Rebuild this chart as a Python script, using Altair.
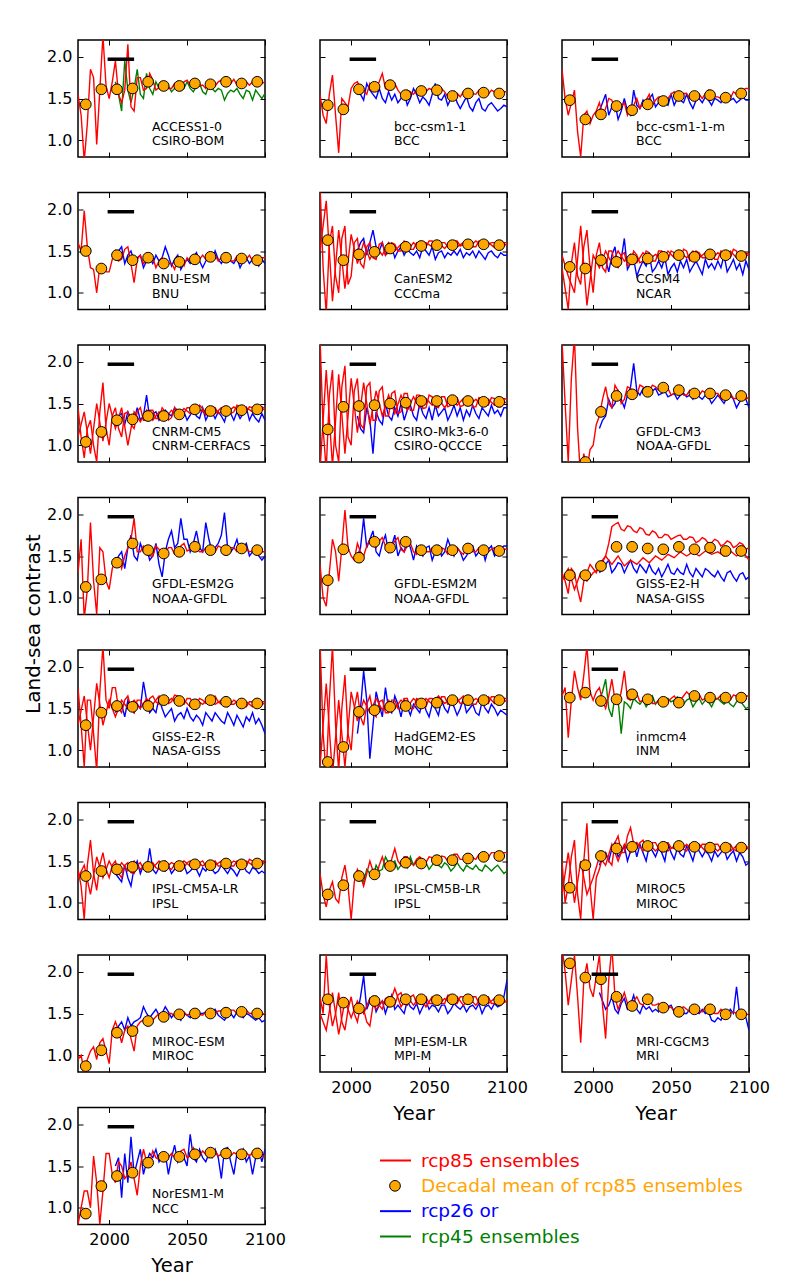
import altair as alt
import pandas as pd

RED_START = 1980        # rcp85 (with historical) series start
ALT_START = 2004        # rcp26 / rcp45 series start
END_YEAR = 2100
DECADES = list(range(1985, 2096, 10))       # decadal means

MODELS = ["ACCESS1-0", "bcc-csm1-1", "bcc-csm1-1-m", "BNU-ESM", "CanESM2", "CCSM4",
          "CNRM-CM5", "CSIRO-Mk3-6-0", "GFDL-CM3", "GFDL-ESM2G", "GFDL-ESM2M", "GISS-E2-H",
          "GISS-E2-R", "HadGEM2-ES", "inmcm4", "IPSL-CM5A-LR", "IPSL-CM5B-LR", "MIROC5",
          "MIROC-ESM", "MPI-ESM-LR", "MRI-CGCM3", "NorESM1-M"]
INSTITUTES = ["CSIRO-BOM", "BCC", "BCC", "BNU", "CCCma", "NCAR",
              "CNRM-CERFACS", "CSIRO-QCCCE", "NOAA-GFDL", "NOAA-GFDL", "NOAA-GFDL", "NASA-GISS",
              "NASA-GISS", "MOHC", "INM", "IPSL", "IPSL", "MIROC",
              "MIROC", "MPI-M", "MRI", "NCC"]
OTHER_SCENARIO = ["rcp45", "rcp26", "rcp26", "rcp26", "rcp26", "rcp26",
                  "rcp26", "rcp26", "rcp26", "rcp26", "rcp26", "rcp26",
                  "rcp26", "rcp26", "rcp45", "rcp26", "rcp45", "rcp26",
                  "rcp26", "rcp26", "rcp26", "rcp26"]

# ---- rcp85 ensemble members: first member every 2 years, second member every 4 years ----
R85_ACCESS1_0 = [[1.55,1.3,0.75,1.2,1.85, 1.75,0.95,1.6,2.25,1.65, 1.5,1.7,1.95,1.55,1.45, 1.6,2.15,1.4,1.35,1.75,
                  1.75,1.6,1.62,1.8,1.72, 1.6,1.63,1.7,1.68,1.62, 1.62,1.68,1.66,1.6,1.7, 1.72,1.66,1.7,1.72,1.65,
                  1.66,1.62,1.7,1.68,1.65, 1.7,1.72,1.68,1.72,1.68, 1.73,1.66,1.67,1.71,1.7, 1.66,1.7,1.72,1.68,1.68, 1.7]]
R85_BCC_CSM1_1 = [[1.55,1.3,1.2,1.55,1.78, 1.3,0.85,1.5,1.45,1.4, 1.62,1.68,1.7,1.62,1.6, 1.55,1.68,1.6,1.62,1.7,
                   1.8,1.62,1.6,1.65,1.68, 1.6,1.55,1.52,1.6,1.58, 1.55,1.6,1.62,1.55,1.58, 1.62,1.6,1.55,1.58,1.62,
                   1.58,1.52,1.55,1.5,1.56, 1.52,1.58,1.6,1.55,1.56, 1.55,1.6,1.58,1.52,1.55, 1.6,1.58,1.56,1.55,1.58, 1.58]]
R85_BCC_CSM1_1_M = [[1.85,1.5,1.3,1.45,1.6, 1.1,0.8,1.3,1.35,1.2, 1.3,1.35,1.45,1.3,1.38, 1.5,1.48,1.35,1.42,1.4,
                     1.45,1.3,1.38,1.42,1.5, 1.38,1.45,1.48,1.55,1.42, 1.48,1.52,1.52,1.45,1.5, 1.55,1.58,1.52,1.5,1.56,
                     1.56,1.5,1.52,1.55,1.55, 1.5,1.56,1.6,1.56,1.52, 1.52,1.5,1.55,1.48,1.5, 1.58,1.55,1.55,1.6,1.62, 1.62]]
R85_BNU_ESM = [[1.6,1.5,1.98,1.55,1.3, 1.28,1.0,1.32,1.3,1.25, 1.25,1.4,1.5,1.38,1.4, 1.52,1.55,1.35,1.12,1.4,
                1.45,1.35,1.38,1.42,1.42, 1.3,1.38,1.42,1.3,1.35, 1.35,1.28,1.4,1.38,1.32, 1.42,1.38,1.38,1.45,1.4,
                1.45,1.4,1.45,1.42,1.45, 1.38,1.42,1.42,1.4,1.38, 1.38,1.44,1.44,1.38,1.4, 1.45,1.38,1.38,1.42,1.42, 1.42]]
R85_CANESM2 = [[2.3,1.3,0.75,1.6,1.8, 1.2,1.0,1.65,1.8,1.1, 1.2,1.6,1.65,1.35,1.3, 1.55,1.6,1.42,1.4,1.58,
                1.6,1.45,1.48,1.6,1.58, 1.5,1.5,1.62,1.6,1.52, 1.52,1.6,1.6,1.54,1.55, 1.62,1.62,1.55,1.58,1.6,
                1.6,1.55,1.55,1.62,1.62, 1.56,1.58,1.6,1.6,1.55, 1.55,1.62,1.62,1.56,1.58, 1.6,1.6,1.55,1.6,1.6, 1.6],
               [1.5,2.1,0.9,1.75,1.05,1.7,1.35,1.6,1.4,1.55,1.45,1.6,1.5,1.58,1.5,1.6,1.52,1.6,1.55,1.6,1.53,1.62,1.55,1.6,1.55,1.62,1.56,1.6,1.54,1.62,1.56]]
R85_CCSM4 = [[1.3,1.05,0.8,1.35,1.6, 1.2,1.1,1.55,1.75,1.3, 1.0,1.45,1.6,1.3,1.25, 1.5,1.5,1.32,1.3,1.45,
              1.48,1.32,1.35,1.5,1.45, 1.36,1.38,1.5,1.48,1.38, 1.38,1.5,1.5,1.4,1.4, 1.5,1.48,1.4,1.42,1.52,
              1.5,1.38,1.4,1.5,1.48, 1.42,1.42,1.5,1.5,1.4, 1.4,1.5,1.48,1.4,1.42, 1.52,1.5,1.4,1.4,1.48, 1.46],
             [1.45,1.2,1.0,1.8,0.85,1.45,1.3,1.5,1.35,1.5,1.38,1.46,1.36,1.48,1.4,1.46,1.4,1.5,1.42,1.48,1.42,1.5,1.42,1.48,1.4,1.48,1.42,1.5,1.42,1.48,1.44]]
R85_CNRM_CM5 = [[1.45,1.1,0.85,1.2,1.3, 1.0,0.8,1.4,1.75,1.2, 1.0,1.35,1.45,1.2,1.1, 1.38,1.4,1.25,1.2,1.4,
                 1.45,1.3,1.3,1.42,1.42, 1.32,1.32,1.45,1.4,1.3, 1.33,1.45,1.42,1.36,1.38, 1.45,1.45,1.38,1.4,1.48,
                 1.44,1.36,1.38,1.46,1.45, 1.38,1.4,1.46,1.44,1.38, 1.4,1.48,1.46,1.38,1.4, 1.46,1.45,1.4,1.42,1.46, 1.44],
                [1.1,1.4,0.9,1.5,1.05,1.5,1.2,1.45,1.0,1.4,1.28,1.42,1.3,1.4,1.32,1.42,1.35,1.44,1.38,1.45,1.4,1.45,1.38,1.45,1.4,1.46,1.4,1.45,1.4,1.46,1.42]]
R85_CSIRO_MK3_6_0 = [[2.3,1.2,0.7,1.6,1.9, 1.0,0.8,1.7,1.95,1.1, 1.0,1.65,1.8,1.25,1.2, 1.7,1.75,1.3,1.3,1.65,
                      1.7,1.35,1.35,1.62,1.65, 1.38,1.4,1.62,1.62,1.42, 1.42,1.6,1.6,1.44,1.45, 1.6,1.58,1.46,1.45,1.58,
                      1.58,1.46,1.48,1.58,1.57, 1.46,1.48,1.58,1.57,1.46, 1.46,1.57,1.56,1.47,1.48, 1.57,1.56,1.46,1.46,1.56, 1.55],
                     [0.7,1.9,0.75,1.85,0.9,1.8,1.15,1.75,1.25,1.65,1.35,1.6,1.38,1.6,1.42,1.58,1.45,1.56,1.48,1.56,1.45,1.56,1.48,1.56,1.48,1.55,1.47,1.55,1.48,1.55,1.5]]
R85_GFDL_CM3 = [[2.25,1.5,0.8,1.8,2.3, 1.2,0.6,0.9,0.7,0.95, 1.0,1.25,1.35,1.55,1.7, 1.5,1.45,1.72,1.65,1.5,
                 1.55,1.7,1.68,1.58,1.6, 1.72,1.7,1.62,1.65,1.72, 1.7,1.66,1.65,1.7,1.68, 1.6,1.62,1.68,1.66,1.6,
                 1.6,1.66,1.64,1.58,1.6, 1.65,1.63,1.56,1.58,1.62, 1.62,1.56,1.58,1.63,1.62, 1.56,1.56,1.62,1.6,1.55, 1.58]]
R85_GFDL_ESM2G = [[1.3,1.7,0.75,1.1,1.9, 1.2,0.8,1.6,1.55,1.2, 1.1,1.35,1.45,1.48,1.35, 1.5,1.6,1.7,1.95,1.55,
                   1.55,1.62,1.6,1.5,1.5, 1.62,1.58,1.5,1.52,1.6, 1.6,1.52,1.52,1.62,1.65, 1.56,1.58,1.62,1.6,1.55,
                   1.55,1.6,1.6,1.55,1.55, 1.62,1.6,1.56,1.56,1.6, 1.6,1.55,1.58,1.62,1.6, 1.55,1.56,1.6,1.6,1.55, 1.55]]
R85_GFDL_ESM2M = [[1.4,1.0,0.9,1.3,1.7, 1.55,1.2,1.6,2.05,1.6, 1.5,1.45,1.65,1.55,1.5, 1.62,1.7,1.65,1.6,1.68,
                   1.72,1.62,1.55,1.6,1.68, 1.72,1.58,1.55,1.62,1.65, 1.55,1.52,1.6,1.6,1.55, 1.55,1.6,1.58,1.55,1.6,
                   1.58,1.52,1.55,1.62,1.6, 1.55,1.52,1.6,1.62,1.55, 1.55,1.6,1.58,1.54,1.55, 1.58,1.6,1.55,1.52,1.58, 1.58]]
R85_GISS_E2_H = [[1.3,1.2,1.05,1.35,1.3, 1.1,0.95,1.2,1.3,1.4, 1.35,1.3,1.4,1.45,1.5, 1.65,1.85,1.88,1.9,1.82,
                  1.8,1.86,1.85,1.8,1.78, 1.84,1.82,1.76,1.75,1.8, 1.78,1.72,1.72,1.76,1.75, 1.7,1.72,1.74,1.75,1.7,
                  1.7,1.73,1.72,1.66,1.68, 1.72,1.7,1.65,1.66,1.7, 1.68,1.62,1.64,1.68,1.66, 1.6,1.62,1.66,1.64,1.58, 1.6],
                 [1.2,1.35,1.1,1.3,1.2,1.3,1.35,1.5,1.4,1.5,1.38,1.45,1.4,1.48,1.42,1.5,1.45,1.52,1.48,1.55,1.5,1.55,1.5,1.56,1.52,1.55,1.5,1.56,1.5,1.55,1.45]]
R85_GISS_E2_R = [[1.75,1.3,0.8,1.6,1.6, 1.2,0.75,1.7,2.25,1.6, 1.5,1.75,1.75,1.5,1.45, 1.6,1.65,1.5,1.45,1.6,
                  1.6,1.52,1.5,1.62,1.65, 1.58,1.55,1.62,1.62,1.56, 1.58,1.66,1.65,1.56,1.55, 1.62,1.62,1.55,1.55,1.62,
                  1.6,1.56,1.58,1.64,1.65, 1.58,1.55,1.6,1.6,1.55, 1.55,1.58,1.58,1.52,1.52, 1.58,1.58,1.54,1.55,1.58, 1.58],
                 [1.3,1.65,1.0,1.8,1.3,1.6,1.4,1.6,1.5,1.6,1.5,1.62,1.55,1.65,1.55,1.62,1.55,1.6,1.52,1.6,1.55,1.62,1.55,1.6,1.52,1.6,1.55,1.58,1.52,1.58,1.55]]
R85_HADGEM2_ES = [[2.3,1.2,0.7,1.6,2.25, 1.3,0.75,1.5,1.9,1.2, 1.0,1.5,1.7,1.4,1.3, 1.55,1.65,1.45,1.4,1.58,
                   1.6,1.45,1.45,1.6,1.6, 1.5,1.5,1.62,1.62,1.5, 1.5,1.62,1.6,1.52,1.52, 1.62,1.62,1.55,1.55,1.64,
                   1.64,1.55,1.55,1.62,1.62, 1.56,1.56,1.65,1.65,1.55, 1.55,1.62,1.62,1.56,1.56, 1.64,1.64,1.55,1.55,1.62, 1.62],
                  [0.8,1.8,0.7,1.6,0.8,1.7,1.35,1.6,1.45,1.62,1.48,1.6,1.5,1.6,1.52,1.62,1.55,1.62,1.55,1.65,1.56,1.62,1.58,1.65,1.56,1.62,1.58,1.64,1.56,1.62,1.58]]
R85_INMCM4 = [[1.65,1.75,1.15,1.6,1.95, 1.75,1.6,1.9,2.25,1.7, 1.6,1.7,1.75,1.6,1.5, 1.65,1.85,1.6,1.55,1.7,
               1.95,1.62,1.6,1.72,1.68, 1.58,1.6,1.65,1.62,1.56, 1.56,1.6,1.62,1.6,1.58, 1.62,1.65,1.6,1.6,1.65,
               1.7,1.66,1.62,1.68,1.67, 1.6,1.62,1.66,1.65,1.62, 1.62,1.66,1.65,1.6,1.6, 1.66,1.65,1.6,1.62,1.65, 1.65]]
R85_IPSL_CM5A_LR = [[1.4,1.2,0.8,1.45,1.75, 1.35,1.15,1.45,1.6,1.4, 1.3,1.45,1.5,1.35,1.3, 1.45,1.48,1.36,1.35,1.45,
                     1.48,1.4,1.38,1.46,1.48, 1.42,1.4,1.48,1.5,1.42, 1.4,1.46,1.48,1.42,1.42, 1.48,1.5,1.44,1.42,1.48,
                     1.5,1.44,1.42,1.48,1.5, 1.44,1.44,1.5,1.5,1.44, 1.44,1.5,1.5,1.44,1.44, 1.52,1.5,1.45,1.46,1.5, 1.5],
                    [1.3,1.45,1.1,1.55,1.3,1.5,1.35,1.48,1.38,1.5,1.4,1.48,1.42,1.5,1.42,1.48,1.44,1.5,1.44,1.5,1.44,1.5,1.45,1.5,1.44,1.5,1.46,1.5,1.45,1.5,1.46]]
R85_IPSL_CM5B_LR = [[1.35,1.1,0.95,1.15,1.25, 1.05,1.0,1.3,1.45,1.2, 0.8,1.25,1.4,1.32,1.2, 1.35,1.5,1.38,1.3,1.45,
                     1.55,1.42,1.4,1.52,1.65, 1.5,1.45,1.55,1.55,1.48, 1.45,1.52,1.55,1.5,1.48, 1.55,1.54,1.5,1.5,1.56,
                     1.55,1.5,1.52,1.58,1.58, 1.52,1.52,1.58,1.58,1.54, 1.52,1.58,1.6,1.55,1.54, 1.6,1.6,1.55,1.56,1.6, 1.6]]
R85_MIROC5 = [[1.5,1.0,1.2,1.55,1.75, 1.1,0.8,1.5,1.95,1.2, 0.8,1.3,1.4,1.55,1.6, 1.5,1.45,1.72,1.8,1.6,
               1.6,1.8,1.9,1.7,1.65, 1.72,1.75,1.65,1.62,1.72, 1.72,1.65,1.65,1.72,1.72, 1.66,1.65,1.72,1.72,1.64,
               1.62,1.7,1.72,1.66,1.65, 1.7,1.7,1.64,1.62,1.7, 1.7,1.64,1.65,1.7,1.7, 1.64,1.62,1.7,1.7,1.64, 1.66],
              [1.1,1.6,1.0,1.5,1.1,1.3,1.55,1.45,1.7,1.5,1.7,1.6,1.72,1.62,1.7,1.62,1.7,1.62,1.68,1.62,1.7,1.62,1.7,1.62,1.68,1.62,1.7,1.62,1.68,1.62,1.68]]
R85_MIROC_ESM = [[0.95,1.0,0.8,0.95,1.05, 1.1,0.95,1.15,1.2,1.05, 0.9,1.3,1.4,1.3,1.15, 1.3,1.35,1.2,1.05,1.35,
                  1.4,1.42,1.45,1.4,1.42, 1.46,1.5,1.45,1.45,1.5, 1.5,1.47,1.48,1.52,1.52, 1.48,1.5,1.53,1.52,1.49,
                  1.48,1.52,1.52,1.49,1.5, 1.53,1.53,1.5,1.5,1.54, 1.54,1.5,1.5,1.54,1.54, 1.5,1.5,1.53,1.52,1.49, 1.5]]
R85_MPI_ESM_LR = [[1.7,1.5,2.2,1.6,1.35, 1.5,1.75,1.4,1.3,1.55, 1.7,1.5,1.4,1.6,1.55, 1.4,1.35,1.6,1.7,1.6,
                   1.55,1.68,1.7,1.6,1.6, 1.72,1.75,1.62,1.6,1.7, 1.72,1.62,1.62,1.7,1.7, 1.62,1.62,1.7,1.7,1.62,
                   1.62,1.72,1.72,1.62,1.62, 1.7,1.7,1.62,1.62,1.7, 1.7,1.62,1.62,1.7,1.7, 1.62,1.62,1.7,1.7,1.64, 1.64],
                  [1.5,1.3,1.75,1.25,1.65,1.45,1.65,1.5,1.68,1.55,1.65,1.58,1.8,1.58,1.7,1.6,1.7,1.58,1.7,1.6,1.68,1.62,1.7,1.6,1.68,1.6,1.7,1.62,1.68,1.6,1.66]]
R85_MRI_CGCM3 = [[2.3,2.0,1.6,1.9,2.2, 1.7,1.15,1.9,2.1,1.8, 1.7,1.95,2.2,1.6,1.2, 1.9,2.3,1.7,1.55,1.65,
                  1.75,1.62,1.58,1.65,1.7, 1.62,1.6,1.66,1.68,1.6, 1.6,1.62,1.55,1.52,1.56, 1.58,1.52,1.5,1.56,1.58,
                  1.55,1.52,1.56,1.58,1.52, 1.52,1.58,1.56,1.52,1.5, 1.5,1.55,1.52,1.48,1.5, 1.52,1.5,1.48,1.5,1.48, 1.5]]
R85_NORESM1_M = [[0.8,1.0,1.2,1.2,1.0, 1.62,1.3,0.8,1.2,1.65, 1.65,1.4,1.3,1.55,1.5, 1.35,1.4,1.55,1.35,1.15,
                  1.5,1.7,1.55,1.55,1.68, 1.6,1.58,1.65,1.62,1.6, 1.65,1.6,1.6,1.68,1.7, 1.6,1.62,1.72,1.65,1.62,
                  1.68,1.64,1.6,1.66,1.68, 1.62,1.64,1.66,1.6,1.62, 1.66,1.64,1.6,1.64,1.66, 1.62,1.66,1.68,1.62,1.62, 1.62]]

# ---- rcp26 (blue) or rcp45 (green) ensembles, 2004..2100 every 2 years ----
ALT_ACCESS1_0 = [1.7,1.55,1.35, 1.95,1.6,1.45,1.62,1.85, 1.55,1.5,1.8,1.62,1.55, 1.7,1.62,1.6,1.68,1.65, 1.58,1.62,1.7,1.6,1.62,
                 1.7,1.62,1.58,1.65,1.68, 1.58,1.55,1.66,1.62,1.58, 1.62,1.6,1.48,1.56,1.6, 1.58,1.62,1.55,1.5,1.6, 1.58,1.48,1.6,1.55,1.5, 1.56]
ALT_BCC_CSM1_1 = [1.6,1.55,1.48, 1.68,1.6,1.55,1.5,1.62, 1.5,1.45,1.58,1.48,1.55, 1.45,1.5,1.58,1.42,1.5, 1.62,1.55,1.45,1.52,1.48,
                  1.42,1.55,1.68,1.5,1.48, 1.55,1.42,1.5,1.58,1.45, 1.38,1.45,1.52,1.4,1.35, 1.45,1.5,1.38,1.35,1.42, 1.45,1.4,1.35,1.38,1.42, 1.4]
ALT_BCC_CSM1_1_M = [1.35,1.45,1.55, 1.3,1.4,1.45,1.25,1.35, 1.5,1.35,1.3,1.6,1.42, 1.38,1.48,1.42,1.5,1.55, 1.4,1.45,1.5,1.45,1.42,
                    1.55,1.42,1.5,1.48,1.45, 1.55,1.45,1.38,1.48,1.5, 1.45,1.52,1.48,1.42,1.5, 1.48,1.45,1.52,1.46,1.48, 1.5,1.45,1.48,1.52,1.48, 1.48]
ALT_BNU_ESM = [1.45,1.5,1.55, 1.35,1.45,1.5,1.38,1.42, 1.45,1.3,1.38,1.42,1.35, 1.45,1.38,1.42,1.55,1.45, 1.32,1.4,1.45,1.28,1.35,
               1.4,1.35,1.42,1.48,1.38, 1.3,1.38,1.42,1.38,1.5, 1.4,1.35,1.42,1.45,1.38, 1.35,1.42,1.3,1.38,1.42, 1.35,1.4,1.38,1.32,1.4, 1.35]
ALT_CANESM2 = [1.5,1.6,1.65, 1.45,1.6,1.75,1.55,1.5, 1.6,1.45,1.52,1.55,1.42, 1.5,1.55,1.45,1.52,1.48, 1.45,1.5,1.42,1.55,1.5,
               1.45,1.55,1.4,1.48,1.5, 1.42,1.48,1.45,1.5,1.45, 1.52,1.42,1.48,1.45,1.5, 1.42,1.5,1.45,1.4,1.48, 1.5,1.45,1.42,1.48,1.45, 1.45]
ALT_CCSM4 = [1.35,1.45,1.4, 1.25,1.45,1.55,1.3,1.4, 1.65,1.28,1.35,1.4,1.2, 1.3,1.38,1.32,1.45,1.25, 1.3,1.38,1.3,1.42,1.22,
             1.3,1.35,1.25,1.38,1.3, 1.4,1.25,1.32,1.38,1.3, 1.22,1.4,1.3,1.35,1.28, 1.38,1.3,1.45,1.25,1.32, 1.4,1.28,1.35,1.22,1.38, 1.28]
ALT_CNRM_CM5 = [1.3,1.35,1.38, 1.25,1.4,1.32,1.3,1.45, 1.3,1.35,1.6,1.32,1.38, 1.4,1.3,1.35,1.42,1.38, 1.35,1.45,1.32,1.38,1.4,
                1.3,1.36,1.42,1.35,1.32, 1.45,1.3,1.38,1.4,1.32, 1.4,1.35,1.28,1.42,1.38, 1.3,1.4,1.32,1.38,1.45, 1.3,1.38,1.32,1.28,1.38, 1.3]
ALT_CSIRO_MK3_6_0 = [1.35,1.2,1.15, 1.45,1.3,0.9,1.4,1.3, 1.25,1.5,1.35,1.3,1.45, 1.35,1.5,1.3,1.42,1.48, 1.35,1.3,1.5,1.38,1.32,
                     1.45,1.3,1.48,1.35,1.4, 1.45,1.3,1.38,1.48,1.35, 1.45,1.3,1.42,1.35,1.48, 1.38,1.32,1.45,1.4,1.35, 1.48,1.38,1.42,1.35,1.45, 1.45]
ALT_GFDL_CM3 = [1.2,1.3,1.35, 1.55,1.45,1.5,1.65,1.55, 1.45,1.6,1.7,1.98,1.65, 1.6,1.68,1.7,1.62,1.65, 1.68,1.6,1.62,1.65,1.58,
                1.6,1.62,1.55,1.6,1.62, 1.58,1.6,1.55,1.62,1.58, 1.55,1.6,1.58,1.5,1.55, 1.6,1.55,1.5,1.58,1.6, 1.55,1.45,1.52,1.6,1.55, 1.45]
ALT_GFDL_ESM2G = [1.4,1.5,1.55, 1.35,1.6,1.75,1.5,1.45, 1.65,1.55,1.6,1.45,1.5, 1.65,1.4,1.25,1.55,1.7, 1.8,1.6,1.65,1.95,1.7,
                  1.7,1.55,1.65,1.8,1.6, 1.55,1.9,1.7,1.55,1.6, 1.65,1.75,2.02,1.6,1.55, 1.6,1.7,1.55,1.6,1.65, 1.5,1.55,1.6,1.5,1.45, 1.5]
ALT_GFDL_ESM2M = [1.5,1.6,1.95, 1.6,1.7,1.8,1.55,1.5, 1.65,1.75,1.55,1.62,1.75, 1.5,1.6,1.55,1.7,1.6, 1.45,1.62,1.55,1.5,1.6,
                  1.62,1.45,1.55,1.62,1.5, 1.55,1.7,1.6,1.5,1.6, 1.55,1.45,1.5,1.58,1.62, 1.5,1.55,1.6,1.45,1.58, 1.62,1.5,1.55,1.58,1.62, 1.62]
ALT_GISS_E2_H = [1.3,1.35,1.4, 1.45,1.3,1.35,1.42,1.4, 1.3,1.38,1.45,1.35,1.3, 1.4,1.35,1.3,1.4,1.32, 1.28,1.35,1.25,1.32,1.4,
                 1.3,1.28,1.35,1.3,1.28, 1.4,1.3,1.25,1.35,1.3, 1.25,1.35,1.32,1.28,1.25, 1.32,1.25,1.2,1.3,1.32, 1.25,1.2,1.28,1.3,1.22, 1.25]
ALT_GISS_E2_R = [1.45,1.5,1.55, 1.4,1.6,1.5,1.45,1.55, 1.5,1.82,1.6,1.45,1.5, 1.45,1.62,1.5,1.4,1.45, 1.5,1.35,1.42,1.45,1.38,
                 1.5,1.4,1.35,1.42,1.38, 1.3,1.45,1.4,1.35,1.45, 1.4,1.35,1.32,1.45,1.38, 1.3,1.42,1.35,1.28,1.4, 1.35,1.45,1.32,1.38,1.3, 1.2]
ALT_HADGEM2_ES = [1.2,1.5,1.95, 1.6,0.9,1.3,1.7,1.55, 1.4,1.75,1.5,1.45,1.65, 1.55,1.4,1.6,1.52,1.42, 1.55,1.5,1.45,1.6,1.48,
                  1.4,1.55,1.5,1.42,1.6, 1.5,1.45,1.58,1.52,1.42, 1.5,1.62,1.45,1.5,1.55, 1.45,1.42,1.58,1.5,1.45, 1.55,1.5,1.42,1.48,1.45, 1.42]
ALT_INMCM4 = [1.6,1.7,1.85, 1.5,1.4,1.65,1.6,1.2, 1.58,1.55,1.5,1.62,1.58, 1.55,1.6,1.52,1.58,1.65, 1.55,1.6,1.58,1.55,1.62,
              1.58,1.6,1.64,1.58,1.55, 1.6,1.62,1.52,1.58,1.62, 1.55,1.6,1.58,1.52,1.6, 1.62,1.58,1.55,1.6,1.55, 1.52,1.58,1.6,1.55,1.5, 1.52]
ALT_IPSL_CM5A_LR = [1.35,1.3,1.25, 1.45,1.3,1.2,1.42,1.5, 1.35,1.45,1.38,1.65,1.4, 1.35,1.42,1.4,1.38,1.45, 1.35,1.4,1.42,1.38,1.45,
                    1.35,1.38,1.42,1.4,1.32, 1.42,1.38,1.45,1.4,1.35, 1.38,1.45,1.4,1.35,1.42, 1.38,1.32,1.4,1.45,1.38, 1.35,1.42,1.4,1.35,1.38, 1.35]
ALT_IPSL_CM5B_LR = [1.3,1.28,1.25, 1.4,1.35,1.3,1.45,1.38, 1.4,1.55,1.48,1.45,1.5, 1.4,1.45,1.48,1.42,1.55, 1.45,1.5,1.48,1.42,1.48,
                    1.4,1.45,1.5,1.45,1.42, 1.48,1.45,1.38,1.42,1.48, 1.42,1.38,1.45,1.42,1.4, 1.45,1.4,1.38,1.45,1.42, 1.38,1.42,1.45,1.4,1.35, 1.38]
ALT_MIROC5 = [1.45,1.55,1.6, 1.5,1.65,1.72,1.55,1.6, 1.68,1.5,1.62,1.72,1.55, 1.7,1.6,1.5,1.68,1.62, 1.55,1.65,1.6,1.5,1.72,
              1.6,1.52,1.65,1.58,1.55, 1.68,1.6,1.5,1.65,1.62, 1.55,1.62,1.58,1.5,1.62, 1.55,1.6,1.65,1.52,1.58, 1.62,1.5,1.6,1.55,1.45, 1.48]
ALT_MIROC_ESM = [1.25,1.35,1.4, 1.3,1.45,1.35,1.4,1.42, 1.45,1.58,1.5,1.45,1.5, 1.55,1.48,1.5,1.58,1.52, 1.45,1.5,1.48,1.42,1.5,
                 1.48,1.45,1.52,1.55,1.5, 1.5,1.52,1.48,1.52,1.55, 1.48,1.45,1.42,1.48,1.5, 1.45,1.52,1.48,1.45,1.5, 1.48,1.45,1.42,1.45,1.4, 1.42]
ALT_MPI_ESM_LR = [1.5,1.7,1.95, 1.55,1.65,1.7,1.52,1.6, 1.65,1.5,1.62,1.72,1.55, 1.6,1.55,1.5,1.65,1.58, 1.55,1.62,1.5,1.58,1.65,
                  1.55,1.6,1.58,1.52,1.6, 1.6,1.5,1.55,1.62,1.58, 1.55,1.6,1.52,1.58,1.6, 1.55,1.62,1.5,1.58,1.6, 1.55,1.62,1.58,1.6,1.7, 1.9]
ALT_MRI_CGCM3 = [1.75,1.65,1.55, 1.6,1.7,1.55,1.5,1.62, 1.68,1.55,1.6,1.72,1.55, 1.5,1.6,1.55,1.58,1.52, 1.55,1.52,1.6,1.55,1.58,
                 1.6,1.52,1.5,1.55,1.5, 1.5,1.55,1.6,1.52,1.5, 1.55,1.5,1.52,1.42,1.4, 1.45,1.42,1.5,1.48,1.55, 1.5,1.82,1.48,1.52,1.45, 1.3]
ALT_NORESM1_M = [1.5,1.6,1.12, 1.65,1.3,1.85,1.4,1.55, 1.7,1.4,1.55,1.65,1.6, 1.7,1.55,1.62,1.65,1.4, 1.6,1.75,1.55,1.65,1.6,
                 1.5,1.88,1.6,1.55,1.7, 1.6,1.55,1.65,1.6,1.7, 1.6,1.35,1.7,1.72,1.55, 1.4,1.65,1.6,1.7,1.55, 1.62,1.4,1.6,1.7,1.55, 1.7]

# ---- decadal means of rcp85 ensembles (1985..2095) ----
DM_ACCESS1_0 = [1.43,1.61,1.61,1.62,1.70,1.65,1.65,1.68,1.67,1.70,1.68,1.70]
DM_BCC_CSM1_1 = [1.42,1.37,1.61,1.64,1.66,1.54,1.59,1.60,1.53,1.56,1.57,1.56]
DM_BCC_CSM1_1_M = [1.48,1.25,1.31,1.41,1.36,1.43,1.47,1.53,1.53,1.54,1.51,1.56]
DM_BNU_ESM = [1.50,1.29,1.45,1.39,1.42,1.35,1.37,1.40,1.43,1.42,1.41,1.39]
DM_CANESM2 = [1.63,1.39,1.46,1.49,1.53,1.55,1.56,1.57,1.57,1.58,1.58,1.57]
DM_CCSM4 = [1.31,1.29,1.39,1.37,1.40,1.41,1.43,1.45,1.43,1.46,1.45,1.44]
DM_CNRM_CM5 = [1.04,1.16,1.30,1.31,1.35,1.35,1.37,1.43,1.41,1.41,1.42,1.43]
DM_CSIRO_MK3_6_0 = [1.19,1.46,1.47,1.48,1.50,1.51,1.53,1.53,1.54,1.53,1.52,1.52]
DM_GFDL_CM3 = [None,0.80,1.40,1.59,1.61,1.64,1.69,1.66,1.62,1.62,1.60,1.59]
DM_GFDL_ESM2G = [1.13,1.22,1.42,1.65,1.57,1.53,1.55,1.61,1.57,1.57,1.59,1.57]
DM_GFDL_ESM2M = [1.21,1.58,1.48,1.67,1.60,1.67,1.57,1.57,1.57,1.59,1.57,1.56]
DM_GISS_E2_H = [1.27,1.27,1.38,1.61,1.61,1.59,1.58,1.61,1.58,1.60,1.56,1.56]
DM_GISS_E2_R = [1.30,1.45,1.53,1.52,1.53,1.60,1.59,1.55,1.60,1.58,1.56,1.56]
DM_HADGEM2_ES = [0.86,1.04,1.46,1.48,1.52,1.53,1.56,1.57,1.60,1.60,1.60,1.60]
DM_INMCM4 = [1.63,1.69,1.59,1.61,1.67,1.61,1.58,1.57,1.65,1.63,1.63,1.63]
DM_IPSL_CM5A_LR = [1.32,1.38,1.40,1.43,1.43,1.44,1.44,1.46,1.45,1.47,1.46,1.47]
DM_IPSL_CM5B_LR = [1.10,1.21,1.32,1.34,1.44,1.48,1.47,1.51,1.51,1.53,1.55,1.56]
DM_MIROC5 = [1.18,1.45,1.56,1.65,1.67,1.68,1.67,1.68,1.67,1.66,1.66,1.66]
DM_MIROC_ESM = [0.87,1.06,1.27,1.29,1.41,1.46,1.49,1.50,1.50,1.51,1.52,1.50]
DM_MPI_ESM_LR = [1.67,1.63,1.56,1.65,1.64,1.67,1.67,1.66,1.67,1.67,1.66,1.66]
DM_MRI_CGCM3 = [2.10,1.93,1.91,1.70,1.59,1.67,1.57,1.52,1.55,1.55,1.49,1.49]
DM_NORESM1_M = [0.93,1.26,1.38,1.42,1.54,1.61,1.61,1.64,1.66,1.65,1.64,1.65]

RCP85 = [R85_ACCESS1_0, R85_BCC_CSM1_1, R85_BCC_CSM1_1_M, R85_BNU_ESM, R85_CANESM2, R85_CCSM4,
         R85_CNRM_CM5, R85_CSIRO_MK3_6_0, R85_GFDL_CM3, R85_GFDL_ESM2G, R85_GFDL_ESM2M, R85_GISS_E2_H,
         R85_GISS_E2_R, R85_HADGEM2_ES, R85_INMCM4, R85_IPSL_CM5A_LR, R85_IPSL_CM5B_LR, R85_MIROC5,
         R85_MIROC_ESM, R85_MPI_ESM_LR, R85_MRI_CGCM3, R85_NORESM1_M]
ALTS = [ALT_ACCESS1_0, ALT_BCC_CSM1_1, ALT_BCC_CSM1_1_M, ALT_BNU_ESM, ALT_CANESM2, ALT_CCSM4,
        ALT_CNRM_CM5, ALT_CSIRO_MK3_6_0, ALT_GFDL_CM3, ALT_GFDL_ESM2G, ALT_GFDL_ESM2M, ALT_GISS_E2_H,
        ALT_GISS_E2_R, ALT_HADGEM2_ES, ALT_INMCM4, ALT_IPSL_CM5A_LR, ALT_IPSL_CM5B_LR, ALT_MIROC5,
        ALT_MIROC_ESM, ALT_MPI_ESM_LR, ALT_MRI_CGCM3, ALT_NORESM1_M]
MEANS = [DM_ACCESS1_0, DM_BCC_CSM1_1, DM_BCC_CSM1_1_M, DM_BNU_ESM, DM_CANESM2, DM_CCSM4,
         DM_CNRM_CM5, DM_CSIRO_MK3_6_0, DM_GFDL_CM3, DM_GFDL_ESM2G, DM_GFDL_ESM2M, DM_GISS_E2_H,
         DM_GISS_E2_R, DM_HADGEM2_ES, DM_INMCM4, DM_IPSL_CM5A_LR, DM_IPSL_CM5B_LR, DM_MIROC5,
         DM_MIROC_ESM, DM_MPI_ESM_LR, DM_MRI_CGCM3, DM_NORESM1_M]

REF_PERIOD = [1999, 2016]
REF_LEVEL = 1.97

LEGEND_LABELS = ["rcp85 ensembles", "Decadal mean of rcp85 ensembles", "rcp26 or", "rcp45 ensembles"]
LEGEND_COLORS = ["#FF0000", "#FFA500", "#0000FF", "#008000"]
LEGEND_KIND = ["line", "dot", "line", "line"]

COLORS = {"rcp85": "#FF0000", "rcp26": "#0000FF", "rcp45": "#008000"}
FONT = "DejaVu Sans"
W, H = 187, 117

xs = alt.Scale(domain=[1980, 2100], nice=False, zero=False)
ys = alt.Scale(domain=[0.8, 2.2], nice=False, zero=False)
TICK = 5


def sample_years(start, n):
    """Evenly spaced sampling years of a series that runs from start to END_YEAR."""
    step = (END_YEAR - start) / (n - 1)
    return [start + k * step for k in range(n)]


def axis(orient, values, labels=False, title=None, fmt=None, extra=None):
    kw = dict(orient=orient, values=values, labels=labels, domain=False, grid=False,
              ticks=True, tickSize=TICK, offset=-TICK, tickColor="black", tickWidth=1,
              labelPadding=6, labelFlush=False, labelOverlap=False, labelFontSize=16,
              labelColor="black", labelFont=FONT, titleFont=FONT, titleFontWeight="normal",
              titleColor="black")
    if fmt:
        kw["format"] = fmt
    kw["title"] = title
    if extra:
        kw.update(extra)
    return alt.Axis(**kw)


def panel(i):
    row, col = divmod(i, 3)
    bottom_labels = i in (19, 20, 21)
    xb = axis("bottom", [2000, 2050, 2100], labels=bottom_labels, fmt="d",
              title="Year" if bottom_labels else None,
              extra=dict(titleFontSize=19.5, titlePadding=9, labelPadding=7))
    yextra = dict(titleFontSize=20)
    if i == 9:
        yextra.update(titleX=-44, titleY=126, titleBaseline="alphabetic", titleAngle=270,
                      titleAlign="center")
    yl = axis("left", [1.0, 1.5, 2.0], labels=(col == 0), fmt=".1f",
              title="Land-sea contrast" if i == 9 else None, extra=yextra)
    xt = axis("top", [2000, 2050, 2100])
    yr = axis("right", [1.0, 1.5, 2.0])

    red_rows = []
    for k, s in enumerate(RCP85[i]):
        for y, v in zip(sample_years(RED_START, len(s)), s):
            red_rows.append({"year": y, "value": v, "member": k})
    alt_rows = [{"year": y, "value": v}
                for y, v in zip(sample_years(ALT_START, len(ALTS[i])), ALTS[i])]
    mean_rows = [{"year": y, "value": v} for y, v in zip(DECADES, MEANS[i]) if v is not None]

    other = alt.Chart(pd.DataFrame(alt_rows)).mark_line(
        color=COLORS[OTHER_SCENARIO[i]], strokeWidth=1.4, clip=True).encode(
        x=alt.X("year:Q", scale=xs, axis=xb),
        y=alt.Y("value:Q", scale=ys, axis=yl))
    red = alt.Chart(pd.DataFrame(red_rows)).mark_line(
        color=COLORS["rcp85"], strokeWidth=1.4, clip=True).encode(
        x=alt.X("year:Q", scale=xs, axis=None),
        y=alt.Y("value:Q", scale=ys, axis=None),
        detail="member:N")
    dots = alt.Chart(pd.DataFrame(mean_rows)).mark_circle(
        size=115, color="#FFA500", opacity=1, stroke="black", strokeWidth=1, clip=True).encode(
        x=alt.X("year:Q", scale=xs, axis=xt),
        y=alt.Y("value:Q", scale=ys, axis=yr))
    dummy = pd.DataFrame({"k": [0]})
    bar = alt.Chart(dummy).mark_rule(color="black", strokeWidth=3.5).encode(
        x=alt.XDatum(REF_PERIOD[0], type="quantitative", scale=xs, axis=None),
        x2=alt.X2Datum(REF_PERIOD[1]),
        y=alt.YDatum(REF_LEVEL, type="quantitative", scale=ys, axis=None))
    t1 = alt.Chart(dummy).mark_text(align="left", baseline="middle", fontSize=12.5,
                                    font=FONT, color="black").encode(
        x=alt.XDatum(2027.5, type="quantitative", scale=xs, axis=None),
        y=alt.YDatum(1.164, type="quantitative", scale=ys, axis=None),
        text=alt.value(MODELS[i]))
    t2 = alt.Chart(dummy).mark_text(align="left", baseline="middle", fontSize=12.5,
                                    font=FONT, color="black").encode(
        x=alt.XDatum(2027.5, type="quantitative", scale=xs, axis=None),
        y=alt.YDatum(0.986, type="quantitative", scale=ys, axis=None),
        text=alt.value(INSTITUTES[i]))
    return alt.layer(other, red, dots, bar, t1, t2).resolve_axis(
        x="independent", y="independent").properties(width=W, height=H)


def legend_chart():
    df = pd.DataFrame({"label": LEGEND_LABELS, "kind": LEGEND_KIND})
    yenc = alt.Y("label:N", scale=alt.Scale(type="point", domain=LEGEND_LABELS,
                                            range=[53, 129], padding=0), axis=None)
    cenc = alt.Color("label:N", scale=alt.Scale(domain=LEGEND_LABELS, range=LEGEND_COLORS),
                     legend=None)
    lines = alt.Chart(df).transform_filter("datum.kind == 'line'").mark_rule(
        strokeWidth=2).encode(x=alt.value(60), x2=alt.value(91), y=yenc, color=cenc)
    dot = alt.Chart(df).transform_filter("datum.kind == 'dot'").mark_circle(
        size=115, color="#FFA500", opacity=1, stroke="black", strokeWidth=1).encode(
        x=alt.value(75), y=yenc)
    txt = alt.Chart(df).mark_text(align="left", baseline="middle", fontSize=18.5,
                                  font=FONT).encode(
        x=alt.value(101), y=yenc, text="label:N", color=cenc)
    return alt.layer(lines, dot, txt).properties(
        width=W, height=H, view=alt.ViewBackground(stroke=None))


panels = [panel(i) for i in range(len(MODELS))] + [legend_chart()]

chart = alt.concat(*panels, columns=3, spacing={"row": 35.5, "column": 55},
                   bounds="flush").properties(
    padding={"left": 14, "top": 30, "right": 5, "bottom": 5}
).configure(font=FONT).configure_view(stroke="black", strokeWidth=1.5)

chart.save("out.html", embed_options={"renderer": "svg", "actions": False})
